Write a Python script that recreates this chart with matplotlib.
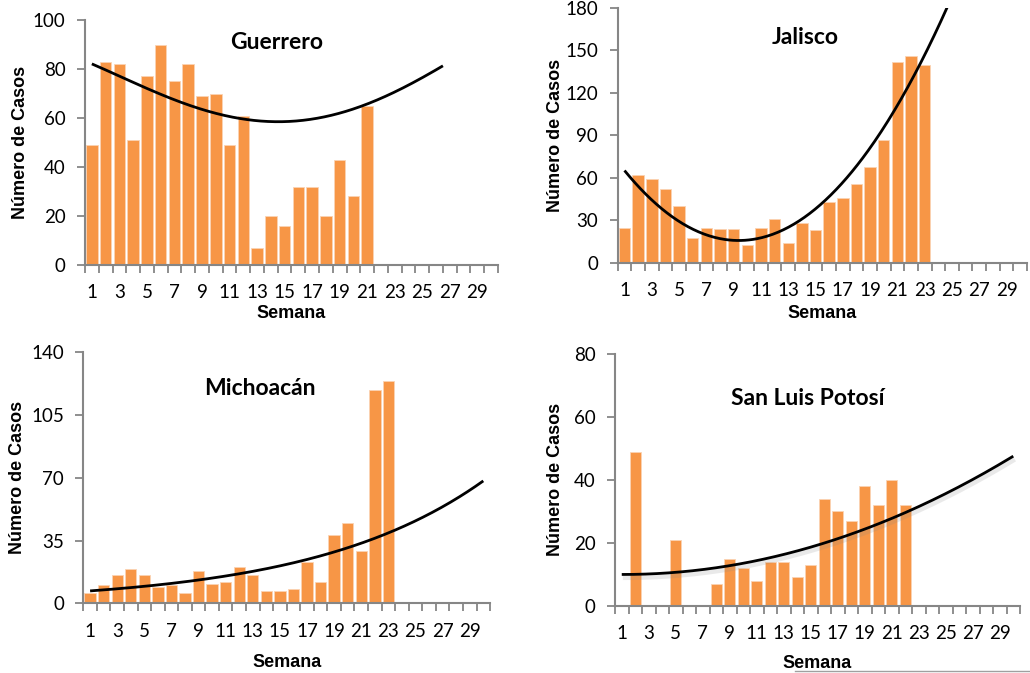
import numpy as np
import matplotlib.pyplot as plt
import matplotlib.patheffects as pe
from matplotlib.lines import Line2D

# weekly case counts (None = no bar drawn)
guerrero = [49, 83, 82, 51, 77, 90, 75, 82, 69, 70, 49, 61, 7, 20, 16, 32, 32, 20, 43, 28, 65]
jalisco = [25, 62, 59, 52, 40, 18, 25, 24, 24, 13, 25, 31, 14, 28, 23, 43, 46, 56, 68, 87,
           142, 146, 140]
michoacan = [6, 10, 16, 19, 16, 9, 10, 6, 18, 11, 12, 20, 16, 7, 7, 8, 23, 12, 38, 45,
             29, 119, 124]
slp = [None, 49, None, None, 21, None, None, 7, 15, 12, 8, 14, 14, 9, 13, 34, 30, 27, 38, 32,
       40, 32]

# trend curves read off the picture where they do not follow a plain fit of the bars
guerrero_trend_x = [1.0, 5.0, 9.8, 12.2, 15.4, 18.3, 20.7, 26.5]
guerrero_trend_y = [82.3, 71.4, 63.0, 59.9, 57.8, 60.3, 66.0, 81.2]
slp_trend_x = [1.07, 5.07, 10.0, 15.4, 20.4, 24.8, 29.96]
slp_trend_y = [10.0, 10.6, 13.3, 19.3, 26.7, 35.2, 47.4]

weeks = np.arange(1, 31)
week_labels = [str(w) if w % 2 == 1 else "" for w in weeks]

ORANGE = "#F79646"
GRAY = "#868686"

fig = plt.figure(figsize=(10.3, 6.73), dpi=100)

panels = [
    # name, data, axes rect, ymax, ystep, trend, trend end, title pos, ylabel x, xlabel y
    ("Guerrero", guerrero, [0.0825, 0.6062, 0.401, 0.364], 100, 20,
     ("read", guerrero_trend_x, guerrero_trend_y, 4), 26.5, (0.465, 0.91), -0.157, -0.196),
    ("Jalisco", jalisco, [0.5997, 0.6092, 0.3974, 0.379], 180, 30,
     ("poly",), 30, (0.458, 0.886), -0.153, -0.196),
    ("Michoacán", michoacan, [0.0809, 0.1036, 0.3949, 0.3729], 140, 35,
     ("exp",), 30, (0.434, 0.854), -0.161, -0.234),
    ("San Luis Potosí", slp, [0.5971, 0.1000, 0.3932, 0.374], 80, 20,
     ("read", slp_trend_x, slp_trend_y, 2), 30, (0.477, 0.825), -0.148, -0.228),
]

for name, data, rect, ymax, ystep, trend, tend, tpos, ylx, xly in panels:
    ax = fig.add_axes(rect)
    y = np.array([np.nan if v is None else v for v in data], dtype=float)
    x = np.arange(1, len(y) + 1)
    ax.bar(x, np.nan_to_num(y), width=0.84, color=ORANGE, edgecolor="#FBD3B3", linewidth=0.6, zorder=2)

    ok = ~np.isnan(y)
    xt = np.linspace(1, tend, 300)
    effects = None
    if trend[0] == "poly":
        yt = np.polyval(np.polyfit(x[ok], y[ok], 2), xt)
    elif trend[0] == "exp":
        b, a = np.polyfit(x[ok], np.log(y[ok]), 1)
        yt = np.exp(a + b * xt)
    else:
        yt = np.polyval(np.polyfit(trend[1], trend[2], trend[3]), xt)
    if name == "San Luis Potosí":
        # soft drop shadow like the reference
        effects = [pe.SimpleLineShadow(offset=(0.8, -1.8), shadow_color="#888888", alpha=0.18, linewidth=4.5),
                   pe.Normal()]
    ax.plot(xt, yt, color="black", lw=2.0, zorder=3, solid_capstyle="butt", path_effects=effects)

    ax.set_xlim(0.5, 30.5)
    ax.set_ylim(0, ymax)
    ax.set_yticks(np.arange(0, ymax + 1, ystep))
    ax.set_xticks(np.arange(0.5, 31, 1))
    ax.set_xticklabels([])
    ax.set_xticks(weeks, minor=True)
    ax.set_xticklabels(week_labels, minor=True)
    ax.tick_params(axis="x", which="major", length=6, width=1.3, color=GRAY, direction="out")
    ax.tick_params(axis="x", which="minor", length=0, pad=14, labelsize=13.5)
    ax.tick_params(axis="y", length=6, width=1.3, color=GRAY, pad=8, labelsize=13.5)
    for lab in ax.get_xticklabels(minor=True) + ax.get_yticklabels():
        lab.set_fontfamily("Lato")

    for s in ["top", "right"]:
        ax.spines[s].set_visible(False)
    for s in ["left", "bottom"]:
        ax.spines[s].set_color(GRAY)
        ax.spines[s].set_linewidth(1.5)

    ax.set_ylabel("Número de Casos", fontsize=13, fontweight="bold", family="Liberation Sans")
    ax.yaxis.set_label_coords(ylx, 0.5)
    ax.yaxis.label.set_va("center")
    ax.set_xlabel("Semana", fontsize=13, fontweight="bold", family="Liberation Sans")
    ax.xaxis.set_label_coords(0.5, xly)
    ax.xaxis.label.set_va("center")

    ax.text(tpos[0], tpos[1], name, transform=ax.transAxes, ha="center", va="center",
            fontsize=16.5, fontweight="bold", family="Lato")

fig.add_artist(Line2D([795 / 1030, 1.0], [0.003, 0.003], color="#A0A0A0", lw=1))

fig.savefig("out.png", dpi=100)
